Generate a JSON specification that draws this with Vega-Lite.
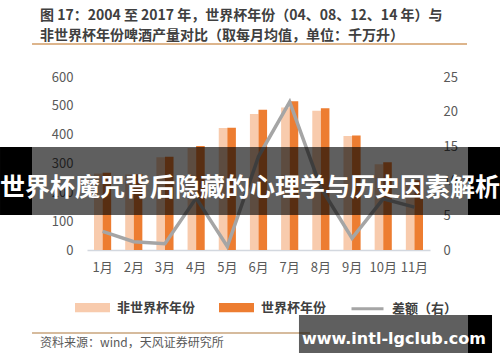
{
  "$schema": "https://vega.github.io/schema/vega-lite/v6.json",
  "width": 343,
  "height": 173,
  "autosize": "none",
  "padding": {"left": 87, "top": 77, "right": 70, "bottom": 112},
  "background": "white",
  "title": {
    "text": ["图 17：2004 至 2017 年，世界杯年份（04、08、12、14 年）与", "非世界杯年份啤酒产量对比（取每月均值，单位：千万升）"],
    "anchor": "start",
    "frame": "group",
    "dx": -47,
    "offset": 0,
    "fontSize": 14,
    "fontWeight": "bold",
    "color": "#404040",
    "font": "Noto Sans CJK SC",
    "lineHeight": 20
  },
  "config": {
    "view": {"stroke": null},
    "font": "Noto Sans CJK SC"
  },
  "resolve": {"scale": {"x": "independent", "y": "independent"}},
  "layer": [
    {
      "data": {"values": [
        {"month": "1月", "series": "非世界杯年份", "value": 265},
        {"month": "1月", "series": "世界杯年份", "value": 268},
        {"month": "2月", "series": "非世界杯年份", "value": 262},
        {"month": "2月", "series": "世界杯年份", "value": 263},
        {"month": "3月", "series": "非世界杯年份", "value": 322},
        {"month": "3月", "series": "世界杯年份", "value": 323},
        {"month": "4月", "series": "非世界杯年份", "value": 354},
        {"month": "4月", "series": "世界杯年份", "value": 361},
        {"month": "5月", "series": "非世界杯年份", "value": 423},
        {"month": "5月", "series": "世界杯年份", "value": 424},
        {"month": "6月", "series": "非世界杯年份", "value": 472},
        {"month": "6月", "series": "世界杯年份", "value": 486},
        {"month": "7月", "series": "非世界杯年份", "value": 494},
        {"month": "7月", "series": "世界杯年份", "value": 516},
        {"month": "8月", "series": "非世界杯年份", "value": 483},
        {"month": "8月", "series": "世界杯年份", "value": 492},
        {"month": "9月", "series": "非世界杯年份", "value": 395},
        {"month": "9月", "series": "世界杯年份", "value": 397},
        {"month": "10月", "series": "非世界杯年份", "value": 297},
        {"month": "10月", "series": "世界杯年份", "value": 304},
        {"month": "11月", "series": "非世界杯年份", "value": 236},
        {"month": "11月", "series": "世界杯年份", "value": 242}
      ]},
      "mark": {"type": "bar"},
      "encoding": {
        "x": {"field": "month", "type": "nominal", "sort": null,
              "scale": {"paddingInner": 0.45, "paddingOuter": 0.225},
              "axis": {"title": null, "labelAngle": 0, "ticks": false, "domainColor": "#d3d8df", "domainWidth": 1.5,
                       "labelPadding": 11, "labelFontSize": 13, "labelColor": "#595959", "labelFont": "Noto Sans CJK SC"}},
        "xOffset": {"field": "series", "type": "nominal", "sort": ["非世界杯年份", "世界杯年份"], "scale": {"paddingInner": 0}},
        "y": {"field": "value", "type": "quantitative",
              "scale": {"domain": [0, 600], "nice": false},
              "axis": {"orient": "left", "title": null, "tickCount": 6, "domain": false, "ticks": false, "grid": false,
                       "labelPadding": 14, "labelFontSize": 13, "labelColor": "#595959", "labelFont": "Noto Sans CJK SC"}},
        "color": {"field": "series", "type": "nominal",
                  "scale": {"domain": ["非世界杯年份", "世界杯年份", "差额（右）"], "range": ["#f8cbad", "#ed7d31", "#a5a5a5"]},
                  "legend": {
                    "title": null, "orient": "none", "direction": "horizontal", "legendX": -12, "legendY": 213,
                    "padding": 0, "labelFontSize": 13, "labelFontWeight": "bold", "labelColor": "#404040",
                    "labelFont": "Noto Sans CJK SC", "labelOffset": 7, "columnPadding": 18, "symbolSize": 1024,
                    "encode": {"symbols": {"update": {
                      "shape": {"signal": "datum.value === '差额（右）' ? 'M-1,0H1' : 'M-1,-0.2H1V0.2H-1Z'"},
                      "fill": {"signal": "datum.value === '差额（右）' ? 'transparent' : (datum.value === '非世界杯年份' ? '#f8cbad' : '#ed7d31')"},
                      "stroke": {"signal": "datum.value === '差额（右）' ? '#a5a5a5' : 'transparent'"},
                      "strokeWidth": {"value": 3},
                      "opacity": {"value": 1}
                    }}}
                  }}
      }
    },
    {
      "data": {"values": [
        {"month": "1月", "diff": 2.7},
        {"month": "2月", "diff": 1.2},
        {"month": "3月", "diff": 0.9},
        {"month": "4月", "diff": 7.5},
        {"month": "5月", "diff": 0.5},
        {"month": "6月", "diff": 13.5},
        {"month": "7月", "diff": 21.4},
        {"month": "8月", "diff": 9},
        {"month": "9月", "diff": 1.7},
        {"month": "10月", "diff": 7.4},
        {"month": "11月", "diff": 6.2}
      ]},
      "mark": {"type": "line", "strokeWidth": 3.5},
      "encoding": {
        "x": {"field": "month", "type": "nominal", "sort": null,
              "scale": {"type": "band", "paddingInner": 0.45, "paddingOuter": 0.225}, "axis": null},
        "y": {"field": "diff", "type": "quantitative",
              "scale": {"domain": [0, 25], "nice": false},
              "axis": {"orient": "right", "title": null, "tickCount": 5, "domain": false, "ticks": false, "grid": false,
                       "labelPadding": 13, "labelFontSize": 13, "labelColor": "#595959", "labelFont": "Noto Sans CJK SC"}},
        "color": {"datum": "差额（右）"}
      }
    },
    {
      "data": {"values": [{}]},
      "mark": {"type": "rule", "color": "#d29d66", "strokeWidth": 1.5},
      "encoding": {
        "x": {"datum": -0.1603, "type": "quantitative", "scale": {"domain": [0, 1], "nice": false, "zero": false}, "axis": null},
        "x2": {"datum": 1.1079},
        "y": {"datum": 1.1908, "type": "quantitative", "scale": {"domain": [0, 1], "nice": false, "zero": false}, "axis": null}
      }
    },
    {
      "data": {"values": [{}]},
      "mark": {"type": "rule", "color": "#c9a47c", "strokeWidth": 1.5},
      "encoding": {
        "x": {"datum": -0.1603, "type": "quantitative", "scale": {"domain": [0, 1], "nice": false, "zero": false}, "axis": null},
        "x2": {"datum": 0.65},
        "y": {"datum": -0.4798, "type": "quantitative", "scale": {"domain": [0, 1], "nice": false, "zero": false}, "axis": null}
      }
    },
    {
      "data": {"values": [{}]},
      "mark": {"type": "text", "text": "资料来源：wind，天风证券研究所", "fontSize": 12, "color": "#595959", "align": "left", "baseline": "alphabetic"},
      "encoding": {
        "x": {"datum": -0.137, "type": "quantitative", "scale": {"domain": [0, 1], "nice": false, "zero": false}, "axis": null},
        "y": {"datum": -0.5607, "type": "quantitative", "scale": {"domain": [0, 1], "nice": false, "zero": false}, "axis": null}
      }
    },
    {
      "data": {"values": [{}]},
      "mark": {"type": "rect", "color": "black", "opacity": 0.627},
      "encoding": {
        "x": {"datum": -0.1603, "type": "quantitative", "scale": {"domain": [0, 1], "nice": false, "zero": false}, "axis": null},
        "x2": {"datum": 1.1108},
        "y": {"datum": 0.5954, "type": "quantitative", "scale": {"domain": [0, 1], "nice": false, "zero": false}, "axis": null},
        "y2": {"datum": 0.2023}
      }
    },
    {
      "data": {"values": [{}]},
      "mark": {"type": "rect", "color": "black", "opacity": 1},
      "encoding": {
        "x": {"datum": -0.2536, "type": "quantitative", "scale": {"domain": [0, 1], "nice": false, "zero": false}, "axis": null},
        "x2": {"datum": -0.1603},
        "y": {"datum": 0.5954, "type": "quantitative", "scale": {"domain": [0, 1], "nice": false, "zero": false}, "axis": null},
        "y2": {"datum": 0.2023}
      }
    },
    {
      "data": {"values": [{}]},
      "mark": {"type": "rect", "color": "black", "opacity": 1},
      "encoding": {
        "x": {"datum": 1.1108, "type": "quantitative", "scale": {"domain": [0, 1], "nice": false, "zero": false}, "axis": null},
        "x2": {"datum": 1.2041},
        "y": {"datum": 0.5954, "type": "quantitative", "scale": {"domain": [0, 1], "nice": false, "zero": false}, "axis": null},
        "y2": {"datum": 0.2023}
      }
    },
    {
      "data": {"values": [{}]},
      "mark": {"type": "text", "text": "世界杯魔咒背后隐藏的心理学与历史因素解析", "fontSize": 25, "fontWeight": "bold", "color": "white", "align": "center", "baseline": "middle"},
      "encoding": {
        "x": {"datum": 0.4752, "type": "quantitative", "scale": {"domain": [0, 1], "nice": false, "zero": false}, "axis": null},
        "y": {"datum": 0.361, "type": "quantitative", "scale": {"domain": [0, 1], "nice": false, "zero": false}, "axis": null}
      }
    },
    {
      "data": {"values": [{}]},
      "mark": {"type": "rect", "color": "black", "opacity": 0.627},
      "encoding": {
        "x": {"datum": 0.618, "type": "quantitative", "scale": {"domain": [0, 1], "nice": false, "zero": false}, "axis": null},
        "x2": {"datum": 1.1108},
        "y": {"datum": -0.3757, "type": "quantitative", "scale": {"domain": [0, 1], "nice": false, "zero": false}, "axis": null},
        "y2": {"datum": -0.5954}
      }
    },
    {
      "data": {"values": [{}]},
      "mark": {"type": "rect", "color": "black", "opacity": 1},
      "encoding": {
        "x": {"datum": 1.1108, "type": "quantitative", "scale": {"domain": [0, 1], "nice": false, "zero": false}, "axis": null},
        "x2": {"datum": 1.1808},
        "y": {"datum": -0.3757, "type": "quantitative", "scale": {"domain": [0, 1], "nice": false, "zero": false}, "axis": null},
        "y2": {"datum": -0.5954}
      }
    },
    {
      "data": {"values": [{}]},
      "mark": {"type": "text", "text": "www.intl-lgclub.com", "fontSize": 16, "fontWeight": "bold", "color": "white", "align": "center", "baseline": "alphabetic", "font": "DejaVu Sans"},
      "encoding": {
        "x": {"datum": 0.895, "type": "quantitative", "scale": {"domain": [0, 1], "nice": false, "zero": false}, "axis": null},
        "y": {"datum": -0.5434, "type": "quantitative", "scale": {"domain": [0, 1], "nice": false, "zero": false}, "axis": null}
      }
    }
  ]
}
